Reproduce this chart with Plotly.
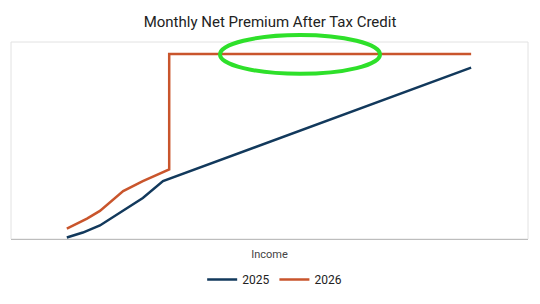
import plotly.graph_objects as go

# Data (arbitrary income units)
income_2025 = [10.8, 13.9, 17.2, 21.7, 25.5, 29.4, 89.0]
premium_2025 = [0.0, 2.5, 6.1, 13.6, 20.2, 28.8, 86.9]
income_2026 = [10.8, 14.7, 17.2, 21.7, 25.5, 30.6, 30.6, 89.0]
premium_2026 = [4.5, 9.6, 13.6, 23.7, 28.8, 34.8, 93.9, 93.9]
series_names = ["2025", "2026"]

fig = go.Figure()
fig.add_trace(go.Scatter(x=income_2025, y=premium_2025, mode="lines", name=series_names[0],
                         line=dict(color="#12395c", width=2.5)))
fig.add_trace(go.Scatter(x=income_2026, y=premium_2026, mode="lines", name=series_names[1],
                         line=dict(color="#c9552c", width=2.5)))

# plot border
fig.add_shape(type="rect", xref="paper", yref="paper", x0=0, x1=1, y0=0, y1=1,
              line=dict(color="#e2e2e2", width=1), layer="below")
# green ellipse highlight
fig.add_shape(type="circle", xref="paper", yref="paper",
              x0=(220 - 11) / 517, x1=(380 - 11) / 517,
              y0=(240 - 74) / 198, y1=(240 - 35) / 198,
              line=dict(color="#2ee02a", width=4))

fig.update_layout(
    width=540, height=304,
    margin=dict(l=11, r=12, t=42, b=64),
    paper_bgcolor="white", plot_bgcolor="white",
    font=dict(family="Roboto, Arial, sans-serif", color="#222"),
    title=dict(text="Monthly Net Premium After Tax Credit", x=0.5, xanchor="center",
               y=1 - 22 / 304, yanchor="middle", font=dict(size=15, color="#222")),
    xaxis=dict(range=[0, 100], showticklabels=False, ticks="", showgrid=False, zeroline=False,
               showline=True, linecolor="#bdbdbd", linewidth=1,
               title=dict(text="Income", font=dict(size=11, color="#444"), standoff=11)),
    yaxis=dict(range=[-0.8, 100], showticklabels=False, ticks="", showgrid=False, zeroline=False,
               showline=False),
    showlegend=True,
    legend=dict(orientation="h", x=0.51, xanchor="center", y=-0.2, yanchor="middle",
                font=dict(size=12, color="#222"), itemwidth=30),
)

fig.write_html("out.html")
